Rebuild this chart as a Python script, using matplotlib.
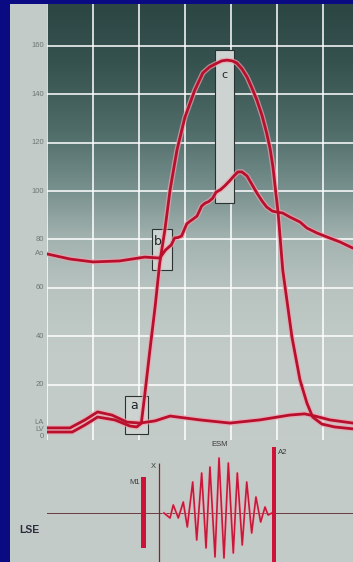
import numpy as np
import matplotlib
matplotlib.use("Agg")
import matplotlib.pyplot as plt
from matplotlib.colors import LinearSegmentedColormap
from matplotlib.patches import Rectangle

plt.rcParams["font.family"] = ["Liberation Sans", "DejaVu Sans"]

# time in ms from the left edge of the grid, pressure in mmHg
lv_t = [0, 22, 33, 44, 59, 72, 78, 82, 85, 89.5, 94, 98, 102.5, 107, 113, 120, 128.5, 135.5,
        141.5, 148, 152, 156.5, 161, 165, 169.5, 174, 178, 182.5, 187, 191, 194, 196.5,
        198.7, 201, 205, 213, 220, 226, 231, 239, 250, 266]
lv_p = [0.4, 0.4, 3.3, 6.6, 5.4, 2.9, 2.5, 4.0, 15.7, 34.3, 52.1, 70.2, 83.9, 100.4, 116.9,
        130.6, 141.7, 148.8, 151.3, 152.9, 153.8, 154.1, 153.8, 152.9, 150.5, 147.1, 142.8,
        137.6, 131.2, 124, 117.5, 109.9, 100.5, 90.9, 67.4, 39.7, 21.9, 12.4, 6.6, 3.7, 2.5, 1.7]

ao_t = [0, 20, 40, 63, 85, 98, 103, 108, 111, 114, 117, 121.5, 124, 127, 130.5, 134.5, 137.5,
        140.5, 144, 147, 151, 154.5, 159, 162.5, 166, 169.5, 174, 178, 182.5, 187, 191, 196,
        200, 205, 211, 220, 226, 235, 243.5, 255, 266]
ao_p = [74, 71.9, 70.7, 71.1, 72.7, 72.3, 75.6, 77.7, 80.6, 80.8, 81.4, 86.4, 87.4, 88.4, 89.7,
        93.8, 95.0, 95.6, 97.0, 99.5, 100.6, 102.1, 104.3, 106.2, 107.9, 107.9, 106.2, 102.9,
        99.2, 95.9, 93.4, 91.7, 91.3, 90.9, 89.3, 87.2, 84.7, 82.6, 81.0, 78.9, 76.4]

la_t = [0, 20, 33, 44, 56.5, 69.5, 81, 94, 107, 120, 133, 159, 185, 211, 224, 233, 246, 266]
la_p = [2.1, 2.1, 5.4, 8.7, 7.4, 4.5, 4.1, 5.0, 7.0, 6.2, 5.4, 4.1, 5.4, 7.4, 7.9, 7.0, 5.4, 4.1]

# highlighted regions: (t0, t1, p0, p1), letter and where the letter sits
box_a = (67.8, 87.8, -0.4, 15.3)
box_b = (91.3, 108.7, 67.4, 84.3)
box_c = (146.0, 162.6, 95.0, 158.3)
box_labels = ["a", "b", "c"]
label_at = [(75.7, 11.2), (96.5, 79.3), (154.0, 148.0)]

pressure_ticks = [0, 20, 40, 60, 80, 100, 120, 140, 160]
time_grid = [0, 40, 80, 120, 160, 200, 240]

# phonocardiogram at the left sternal edge, arbitrary amplitude
esm_t = [101.7, 107, 109.8, 114.2, 118.5, 122, 126.7, 130.2, 134.5, 138.3, 141.7, 146.1, 149.6,
         153.9, 157.7, 162, 165.5, 169.8, 173.7, 178, 181.7, 185.8, 189.6, 192.2, 195.7]
esm_amp = [0, -0.5, 0.8, -0.5, 1.1, -1.4, 3.1, -2.7, 4.0, -3.5, 4.6, -4.4, 5.5, -4.5, 5.0, -4.0,
           4.0, -3.2, 3.1, -2.0, 1.6, -0.9, 0.6, -0.2, 0]
m1_t, m1_lo, m1_hi = 84.0, -3.5, 3.6
x_t, x_hi = 97.4, 5.0
a2_t, a2_hi = 197.4, 6.6

NAVY = "#0a0a82"
PANEL = "#c3cbc8"
RED = "#b8102c"
HALO = "#eea3b0"
T_MAX = 266.1

fig = plt.figure(figsize=(3.53, 5.62), dpi=100, facecolor=NAVY)

bg = fig.add_axes([10 / 353, 0, 343 / 353, 558 / 562])
bg.set_facecolor(PANEL)
bg.set_xticks([])
bg.set_yticks([])
for s in bg.spines.values():
    s.set_visible(False)

# pressure tracings
ax = fig.add_axes([47 / 353, 122 / 562, 306 / 353, 436 / 562])
ax.set_xlim(0, T_MAX)
ax.set_ylim(-2.9, 177.3)
screen = LinearSegmentedColormap.from_list("screen", [
    (0.0, "#2c4644"), (0.13, "#36524f"), (0.29, "#4f6c69"), (0.43, "#7a928f"),
    (0.54, "#a3b3b0"), (0.66, "#b9c4c1"), (0.8, "#c2cbc8"), (1.0, "#c4ccc9")])
ax.imshow(np.linspace(0, 1, 300).reshape(-1, 1), extent=[0, T_MAX, -2.9, 177.3],
          aspect="auto", cmap=screen, origin="upper", zorder=0)

ax.set_xticks(time_grid)
ax.set_yticks(pressure_ticks)
ax.set_xticklabels([])
ax.set_yticklabels([])
ax.grid(True, color="white", lw=1.3, alpha=0.85, zorder=1)
ax.get_ygridlines()[0].set_visible(False)
ax.tick_params(length=0)
for s in ax.spines.values():
    s.set_visible(False)

lab = dict(color="#6f7775", fontsize=5.5, ha="right", va="center", clip_on=False)
for v in pressure_ticks[1:]:
    ax.text(-2.6, v, str(v), **lab)
ax.text(-2.6, 0, "0", **{**lab, "va": "top"})
ax.text(-2.6, ao_p[0], "Ao", **lab)
ax.text(-2.6, 4.5, "LA", **lab)
ax.text(-2.6, 1.5, "LV", **lab)

for (t0, t1, p0, p1), letter, (lx, ly) in zip([box_a, box_b, box_c], box_labels, label_at):
    ax.add_patch(Rectangle((t0, p0), t1 - t0, p1 - p0, facecolor="#cdd3d0",
                           edgecolor="#2a3232", lw=0.8, zorder=3))
    ax.text(lx, ly, letter, fontsize=9 if letter != "c" else 8, color="#1f2626",
            ha="center", va="center", family="DejaVu Sans", zorder=6)

for t, p in [(la_t, la_p), (ao_t, ao_p), (lv_t, lv_p)]:
    ax.plot(t, p, color=HALO, lw=3.8, alpha=0.7, solid_capstyle="round", zorder=4)
    ax.plot(t, p, color=RED, lw=2.0, solid_capstyle="round", zorder=5)

# phonocardiogram strip
ax2 = fig.add_axes([47 / 353, 0, 306 / 353, 122 / 562])
ax2.set_xlim(0, T_MAX)
ax2.set_ylim(-4.9, 7.3)
ax2.axis("off")
ax2.axhline(0, color="#6b3a3e", lw=0.7, zorder=1)
ax2.bar([m1_t], [m1_hi - m1_lo], bottom=m1_lo, width=4.3, color="#cc1236", zorder=3)
ax2.bar([a2_t], [a2_hi + 6], bottom=-6, width=4.0, color="#cc1236", zorder=3)
ax2.vlines(x_t, -6, x_hi, color="#8c2030", lw=0.9, zorder=3)
ax2.plot(esm_t, esm_amp, color="#f0a8b4", lw=2.2, alpha=0.6, zorder=2)
ax2.plot(esm_t, esm_amp, color="#c8183a", lw=1.2, zorder=2)

txt = dict(fontsize=5.5, color="#3a3a3a", clip_on=False)
ax2.text(80.5, 3.0, "M1", ha="right", va="center", **txt)
ax2.text(94.5, 4.6, "X", ha="right", va="center", **txt)
ax2.text(150.4, 6.8, "ESM", ha="center", va="center", **txt)
ax2.text(200.9, 6.1, "A2", ha="left", va="center", **txt)
ax2.text(-15.7, -1.7, "LSE", ha="center", va="center", fontsize=7.5,
         fontweight="bold", color="#2c2c3c", clip_on=False)

fig.savefig("out.png", dpi=100, facecolor=NAVY)
